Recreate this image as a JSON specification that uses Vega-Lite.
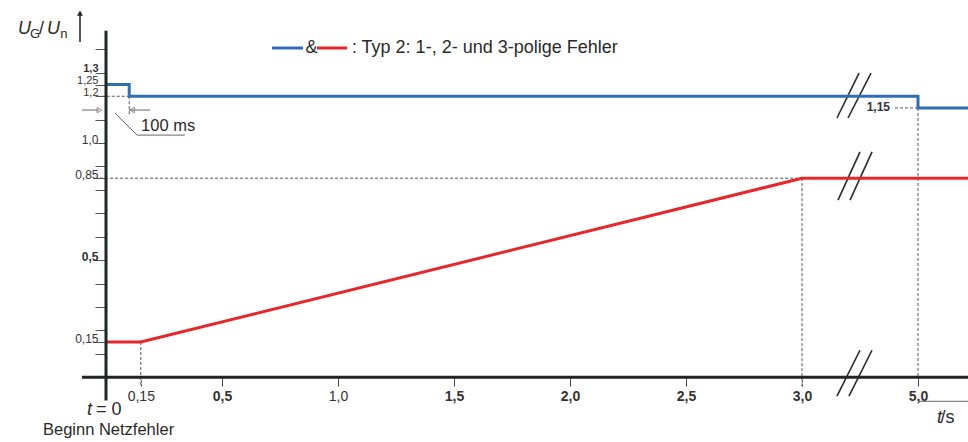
{
  "$schema": "https://vega.github.io/schema/vega-lite/v6.json",
  "width": 886,
  "height": 398,
  "autosize": "none",
  "padding": {"left": 82, "top": 26, "right": 0, "bottom": 18},
  "config": {"view": {"stroke": null}, "font": "Liberation Sans"},
  "datasets": {
    "series": [
      {"s": "blau", "i": 0, "t": 0, "u": 1.25},
      {"s": "blau", "i": 1, "t": 0.1, "u": 1.25},
      {"s": "blau", "i": 2, "t": 0.1, "u": 1.2},
      {"s": "blau", "i": 3, "t": 5, "u": 1.2},
      {"s": "blau", "i": 4, "t": 5, "u": 1.15},
      {"s": "blau", "i": 5, "t": 5.5, "u": 1.15},
      {"s": "rot", "i": 0, "t": 0, "u": 0.15},
      {"s": "rot", "i": 1, "t": 0.15, "u": 0.15},
      {"s": "rot", "i": 2, "t": 3, "u": 0.85},
      {"s": "rot", "i": 3, "t": 5.5, "u": 0.85}
    ],
    "axes": [
      {"t": 0, "t2": 0, "u": -0.1, "u2": 1.48},
      {"t": -0.1034, "t2": 5.5, "u": 0, "u2": 0}
    ],
    "dashes": [
      {"t": -0.04, "t2": 0.1, "u": 1.2, "u2": 1.2},
      {"t": 0.1, "t2": 0.1, "u": 1.2, "u2": 1.12},
      {"t": -0.047, "t2": 3, "u": 0.85, "u2": 0.85},
      {"t": 3, "t2": 3, "u": 0.85, "u2": -0.04},
      {"t": 0.15, "t2": 0.15, "u": 0.15, "u2": -0.04},
      {"t": 5, "t2": 5, "u": 1.15, "u2": 0},
      {"t": 4.603, "t2": 5, "u": 1.15, "u2": 1.15}
    ],
    "thin": [
      {"t": -0.1034, "t2": -0.03, "u": 1.141, "u2": 1.141},
      {"t": 0.1, "t2": 0.19, "u": 1.141, "u2": 1.141},
      {"t": 0.039, "t2": 0.134, "u": 1.128, "u2": 1.034},
      {"t": 0.134, "t2": 0.34, "u": 1.034, "u2": 1.034},
      {"t": 5, "t2": 5.5, "u": -0.103, "u2": -0.103}
    ],
    "breaks": [
      {"t": 3.603, "t2": 3.983, "u": 1.107, "u2": 1.299},
      {"t": 3.793, "t2": 4.19, "u": 1.107, "u2": 1.299},
      {"t": 3.621, "t2": 4.0, "u": 0.756, "u2": 0.962},
      {"t": 3.828, "t2": 4.207, "u": 0.756, "u2": 0.962},
      {"t": 3.603, "t2": 4.0, "u": -0.081, "u2": 0.115},
      {"t": 3.81, "t2": 4.207, "u": -0.081, "u2": 0.115}
    ],
    "legendLines": [
      {"s": "blau", "t": 0.7155, "t2": 0.849, "u": 1.406},
      {"s": "rot", "t": 0.909, "t2": 1.039, "u": 1.406}
    ]
  },
  "encoding": {
    "x": {
      "field": "t", "type": "quantitative",
      "scale": {"domain": [-0.1034, 0, 3, 5, 5.5], "range": [0, 24, 720, 836, 886], "nice": false, "zero": false},
      "axis": {
        "values": [0.15, 0.5, 1, 1.5, 2, 2.5, 3, 5],
        "offset": -48,
        "domain": false,
        "grid": false,
        "tickSize": 10,
        "tickWidth": 1,
        "tickColor": "#444",
        "tickDash": {"condition": {"test": "datum.value == 0.15 || datum.value == 3", "value": [2, 2]}, "value": []},
        "labelExpr": "datum.value == 0.15 ? '0,15' : replace(format(datum.value, '.1f'), '.', ',')",
        "labelFontSize": 14,
        "labelColor": "#333",
        "labelFontWeight": {"condition": {"test": "datum.value == 0.15 || datum.value == 1", "value": "normal"}, "value": "bold"},
        "labelPadding": 3,
        "labelFlush": false,
        "labelOverlap": false,
        "title": null
      }
    },
    "y": {
      "field": "u", "type": "quantitative",
      "scale": {"domain": [-0.2, 1.5], "nice": false, "zero": false},
      "axis": {
        "values": [0.1, 0.15, 0.2, 0.3, 0.4, 0.5, 0.6, 0.7, 0.8, 0.85, 0.9, 1, 1.1, 1.2, 1.25, 1.3, 1.4],
        "offset": -24,
        "domain": false,
        "grid": false,
        "tickSize": 11,
        "tickWidth": 1,
        "tickColor": "#555",
        "labelExpr": "indexof([0.15, 0.5, 0.85, 1, 1.2, 1.25, 1.3], datum.value) >= 0 ? (datum.value == 1 ? '1,0' : replace('' + datum.value, '.', ',')) : ''",
        "labelBaseline": "middle",
        "labelOffset": -4,
        "labelPadding": -3,
        "labelFontSize": {"condition": {"test": "datum.value >= 1.2 && datum.value <= 1.3", "value": 11}, "value": 12},
        "labelColor": "#333",
        "labelFontWeight": {"condition": {"test": "datum.value == 0.5 || datum.value == 1.3", "value": "bold"}, "value": "normal"},
        "labelOverlap": false,
        "labelFlush": false,
        "title": null
      }
    }
  },
  "layer": [
    {
      "data": {"name": "dashes"},
      "mark": {"type": "rule", "color": "#555", "strokeWidth": 1, "strokeDash": [3, 2]},
      "encoding": {"x2": {"field": "t2"}, "y2": {"field": "u2"}}
    },
    {
      "data": {"name": "thin"},
      "mark": {"type": "rule", "color": "#666", "strokeWidth": 1},
      "encoding": {"x2": {"field": "t2"}, "y2": {"field": "u2"}}
    },
    {
      "data": {"values": [{"t": -0.028, "u": 1.141}]},
      "mark": {"type": "point", "shape": "triangle-right", "size": 30, "filled": false, "color": "#666", "strokeWidth": 1}
    },
    {
      "data": {"values": [{"t": 0.112, "u": 1.141}]},
      "mark": {"type": "point", "shape": "triangle-left", "size": 30, "filled": false, "color": "#666", "strokeWidth": 1}
    },
    {
      "data": {"name": "breaks"},
      "mark": {"type": "rule", "color": "#2a2a2a", "strokeWidth": 1.6},
      "encoding": {"x2": {"field": "t2"}, "y2": {"field": "u2"}}
    },
    {
      "data": {"name": "series"},
      "mark": {"type": "line", "strokeWidth": 3, "interpolate": "linear"},
      "encoding": {
        "color": {"field": "s", "type": "nominal", "scale": {"domain": ["blau", "rot"], "range": ["#2f6db5", "#e8262a"]}, "legend": null},
        "order": {"field": "i", "type": "quantitative"}
      }
    },
    {
      "data": {"name": "axes"},
      "mark": {"type": "rule", "color": "#1e2626", "strokeWidth": 3},
      "encoding": {"x2": {"field": "t2"}, "y2": {"field": "u2"}}
    },
    {
      "data": {"name": "legendLines"},
      "mark": {"type": "rule", "strokeWidth": 3},
      "encoding": {
        "x2": {"field": "t2"},
        "color": {"field": "s", "type": "nominal", "scale": {"domain": ["blau", "rot"], "range": ["#2f6db5", "#e8262a"]}, "legend": null}
      }
    },
    {
      "data": {"values": [{"t": -0.112, "t2": -0.112, "u": 1.432, "u2": 1.55}]},
      "mark": {"type": "rule", "color": "#222", "strokeWidth": 1.5},
      "encoding": {"x2": {"field": "t2"}, "y2": {"field": "u2"}}
    },
    {
      "data": {"values": [{"t": -0.112, "u": 1.555}]},
      "mark": {"type": "point", "shape": "triangle-up", "size": 35, "filled": true, "color": "#222", "opacity": 1}
    },
    {
      "data": {"values": [
        {"t": 1.06, "u": 1.406, "txt": ": Typ 2: 1-, 2- und 3-polige Fehler"},
        {"t": 0.86, "u": 1.406, "txt": "&"}
      ]},
      "mark": {"type": "text", "align": "left", "baseline": "middle", "fontSize": 18, "color": "#2a2a2a"},
      "encoding": {"text": {"field": "txt"}}
    },
    {
      "data": {"values": [
        {"t": 0.151, "u": 1.073, "txt": "100 ms"},
        {"t": -0.2716, "u": -0.226, "txt": "Beginn Netzfehler"}
      ]},
      "mark": {"type": "text", "align": "left", "baseline": "middle", "fontSize": 16.5, "color": "#2a2a2a"},
      "encoding": {"text": {"field": "txt"}}
    },
    {
      "data": {"values": [{"t": 4.517, "u": 1.152, "txt": "1,15"}]},
      "mark": {"type": "text", "align": "right", "baseline": "middle", "fontSize": 12, "fontWeight": "bold", "color": "#333"},
      "encoding": {"text": {"field": "txt"}}
    },
    {
      "data": {"values": [
        {"t": -0.379, "u": 1.466, "txt": "U"},
        {"t": -0.254, "u": 1.466, "txt": "U"},
        {"t": -0.082, "u": -0.16, "txt": "t"},
        {"t": 5.19, "u": -0.195, "txt": "t"}
      ]},
      "mark": {"type": "text", "align": "left", "baseline": "alphabetic", "fontSize": 18, "fontStyle": "italic", "color": "#2a2a2a"},
      "encoding": {"text": {"field": "txt"}}
    },
    {
      "data": {"values": [
        {"t": -0.2888, "u": 1.466, "txt": "/"},
        {"t": -0.043, "u": -0.16, "txt": "= 0"},
        {"t": 5.225, "u": -0.195, "txt": "/s"}
      ]},
      "mark": {"type": "text", "align": "left", "baseline": "alphabetic", "fontSize": 18, "color": "#2a2a2a"},
      "encoding": {"text": {"field": "txt"}}
    },
    {
      "data": {"values": [
        {"t": -0.3276, "u": 1.449, "txt": "G"},
        {"t": -0.197, "u": 1.449, "txt": "n"}
      ]},
      "mark": {"type": "text", "align": "left", "baseline": "alphabetic", "fontSize": 13, "color": "#2a2a2a"},
      "encoding": {"text": {"field": "txt"}}
    }
  ]
}
